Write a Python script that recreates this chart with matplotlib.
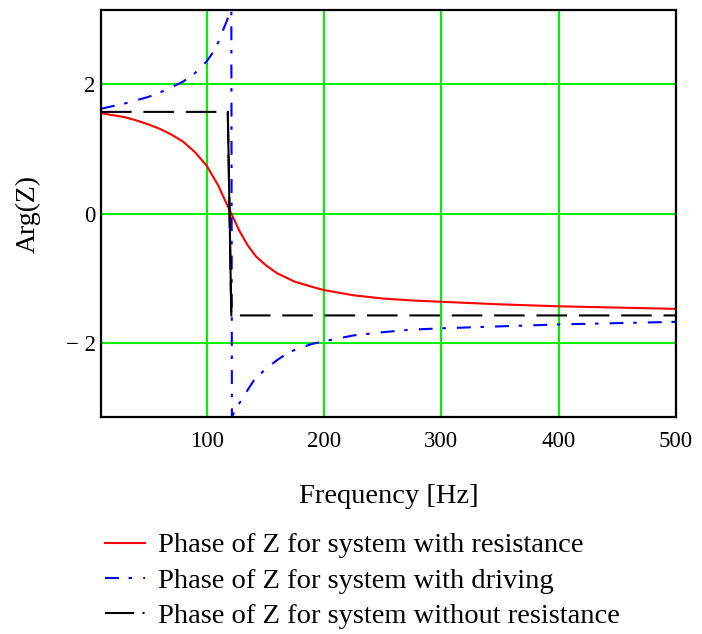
import numpy as np
import matplotlib
matplotlib.use('Agg')
import matplotlib.pyplot as plt
from matplotlib.lines import Line2D

# phase curves, read at selected frequencies (Hz)
f_res = [10, 20, 30, 40, 50, 60, 70, 80, 90, 100, 110, 115, 121, 128, 135, 142,
         150, 160, 175, 190, 200, 225, 250, 275, 300, 350, 400, 450, 500]
arg_res = [1.55, 1.52, 1.49, 1.44, 1.38, 1.31, 1.22, 1.11, 0.95, 0.74, 0.43, 0.23,
           0.0, -0.27, -0.49, -0.66, -0.79, -0.92, -1.05, -1.13, -1.18, -1.26,
           -1.31, -1.34, -1.36, -1.40, -1.43, -1.45, -1.47]

f_drv = [10, 20, 30, 40, 50, 60, 70, 80, 90, 100, 105, 110, 115, 119, 121,
         121.5, 125, 130, 135, 140, 150, 160, 170, 180, 190, 200, 225, 250, 275,
         300, 350, 400, 450, 500]
arg_drv = [1.62, 1.66, 1.70, 1.75, 1.80, 1.87, 1.95, 2.04, 2.17, 2.35, 2.48, 2.65,
           2.88, 3.06, 3.14, -3.14, -3.0, -2.87, -2.72, -2.58, -2.40, -2.26, -2.14,
           -2.07, -2.01, -1.97, -1.88, -1.83, -1.79, -1.77, -1.74, -1.71, -1.69,
           -1.67]

f_nores = [10, 118, 121, 500]
arg_nores = [1.571, 1.571, -1.571, -1.571]

xticks = [100, 200, 300, 400, 500]
yticks = [-2, 0, 2]
ytick_labels = ['\u2212 2', '0', '2']

plt.rcParams['font.family'] = ['Liberation Serif', 'DejaVu Serif']
plt.rcParams['lines.scale_dashes'] = False

fig = plt.figure(figsize=(7.02, 6.34), dpi=100)
ax = fig.add_axes([0.144, 0.342, 0.819, 0.642])

lw = 1.5
ax.plot(f_res, arg_res, color='#ff0000', lw=lw)
ax.plot(f_drv, arg_drv, color='#0000ff', lw=lw, dashes=(10, 7, 2.5, 8))
ax.plot(f_nores, arg_nores, color='black', lw=lw, dashes=(22, 8.5))
# the jump at resonance is drawn solid
ax.plot(f_nores[1:3], arg_nores[1:3], color='black', lw=lw)

ax.set_xlim(10, 500)
ax.set_ylim(-np.pi, np.pi)
ax.set_xticks(xticks)
ax.set_yticks(yticks)
ax.set_yticklabels(ytick_labels)
ax.grid(True, color='#00f000', lw=1.5)
ax.set_axisbelow(True)
ax.tick_params(length=0, labelsize=16.5)
ax.tick_params(axis='x', pad=10)
ax.tick_params(axis='y', pad=4)
for s in ax.spines.values():
    s.set_linewidth(1.6)

ax.set_xlabel('Frequency [Hz]', fontsize=20.5, labelpad=23)
ax.set_ylabel('Arg(Z)', fontsize=20, labelpad=18)

handles = [
    Line2D([], [], color='#ff0000', lw=lw),
    Line2D([], [], color='#0000ff', lw=lw, dashes=(10, 7, 2.5, 8)),
    Line2D([], [], color='black', lw=lw, dashes=(21, 6, 1.5, 8)),
]
labels = ['Phase of Z for system with resistance',
          'Phase of Z for system with driving',
          'Phase of Z for system without resistance']
fig.legend(handles, labels, loc='upper left', bbox_to_anchor=(0.15, 0.160),
           frameon=False, fontsize=20.5, handlelength=1.4, handletextpad=0.45,
           labelspacing=0.33, borderpad=0, borderaxespad=0)

fig.savefig('out.png', dpi=100)
